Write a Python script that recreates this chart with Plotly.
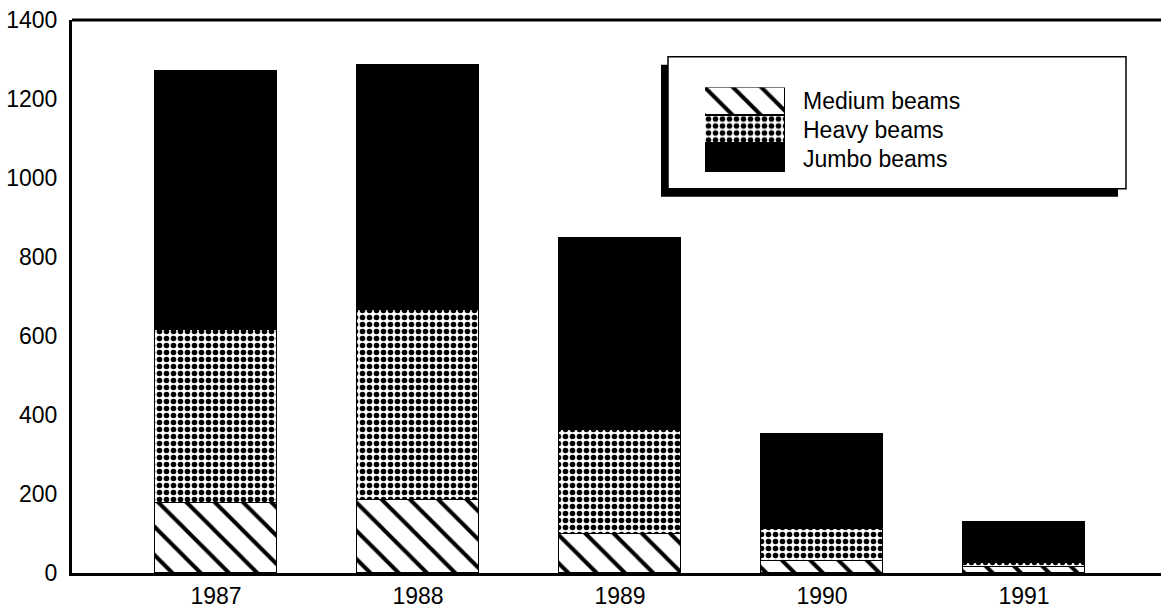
import plotly.graph_objects as go

# Steel beam shipments by year, stacked by beam class
years = ["1987", "1988", "1989", "1990", "1991"]
medium_beams = [176, 184, 100, 31, 15]
heavy_beams = [439, 481, 263, 81, 10]
jumbo_beams = [657, 620, 486, 240, 105]
series_names = ["Medium beams", "Heavy beams", "Jumbo beams"]
y_ticks = [0, 200, 400, 600, 800, 1000, 1200, 1400]
swatch_share = [1, 1, 1]

W, H = 1161, 609
L, R, T, B = 72, 0, 20, 32
FONT = "Liberation Sans, Arial, Helvetica, sans-serif"

patterns = [
    dict(shape="\\", fgcolor="black", bgcolor="white", size=20, solidity=0.2, fillmode="replace"),
    dict(shape=".", fgcolor="black", bgcolor="white", size=7, solidity=0.5, fillmode="replace"),
    None,
]


def px_x(px):
    return (px - L) / (W - L - R)


def px_y(py):
    return (H - B - py) / (H - T - B)


def bar_marker(pat):
    marker = dict(color="black" if pat is None else "white",
                  line=dict(color="black", width=1.5))
    if pat is not None:
        marker["pattern"] = pat
    return marker


fig = go.Figure()

for name, vals, pat in zip(series_names, [medium_beams, heavy_beams, jumbo_beams], patterns):
    fig.add_trace(go.Bar(x=years, y=vals, name=name, width=0.604,
                         marker=bar_marker(pat), showlegend=False, hoverinfo="skip"))

# Key swatch: one stacked bar on its own hidden axes (Jumbo at the bottom, Medium on top)
for name, v, pat in reversed(list(zip(series_names, swatch_share, patterns))):
    fig.add_trace(go.Bar(x=[0], y=[v], name=name, width=1, xaxis="x2", yaxis="y2",
                         marker=bar_marker(pat), showlegend=False, hoverinfo="skip"))

shapes = [
    # top frame line
    dict(type="line", xref="paper", yref="paper", x0=0, x1=1, y0=1, y1=1,
         line=dict(color="black", width=3)),
    # key shadow and box
    dict(type="rect", xref="paper", yref="paper", layer="below",
         x0=px_x(661), x1=px_x(1118), y0=px_y(198), y1=px_y(65),
         fillcolor="black", line=dict(width=0)),
    dict(type="rect", xref="paper", yref="paper", layer="below",
         x0=px_x(668), x1=px_x(1126), y0=px_y(190), y1=px_y(57),
         fillcolor="white", line=dict(color="black", width=1.5)),
]

annotations = []
for i, name in enumerate(series_names):
    annotations.append(dict(xref="paper", yref="paper", x=px_x(801), y=px_y(102 + 29 * i),
                            xanchor="left", yanchor="middle", showarrow=False, text=name,
                            font=dict(family=FONT, size=23, color="black")))

fig.update_layout(
    width=W, height=H,
    margin=dict(l=L, r=R, t=T, b=B, pad=0),
    paper_bgcolor="white", plot_bgcolor="white",
    barmode="stack", bargap=0,
    font=dict(family=FONT, size=23, color="black"),
    shapes=shapes, annotations=annotations,
    xaxis=dict(type="category", range=[-0.713, 4.678], showline=True, linewidth=3,
               linecolor="black", ticks="", showgrid=False, zeroline=False,
               tickfont=dict(size=23), ticklabelstandoff=0),
    yaxis=dict(range=[0, 1400], tickvals=y_ticks, showline=True, linewidth=3,
               linecolor="black", ticks="", showgrid=False, zeroline=False,
               tickfont=dict(size=23), ticklabelstandoff=7),
    xaxis2=dict(domain=[px_x(705), px_x(785)], anchor="y2", range=[-0.5, 0.5], visible=False),
    yaxis2=dict(domain=[px_y(173), px_y(88)], anchor="x2", range=[0, 3], visible=False),
)

fig.write_html("out.html")
